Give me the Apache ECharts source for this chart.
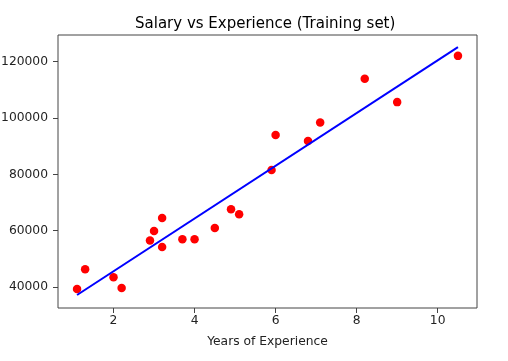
<!DOCTYPE html>
<html>
<head>
<meta charset="utf-8">
<script src="https://cdn.jsdelivr.net/npm/echarts@6/dist/echarts.min.js"></script>
<style>html,body{margin:0;padding:0;background:#fff;}#c{width:508px;height:361px;}</style>
</head>
<body>
<div id="c"></div>
<script>
var experience = [1.1, 1.3, 2.0, 2.2, 2.9, 3.0, 3.2, 3.2, 3.7, 4.0, 4.5, 4.9, 5.1, 5.9, 6.0, 6.8, 7.1, 8.2, 9.0, 10.5];
var salary = [39300, 46300, 43500, 39700, 56500, 59900, 64500, 54200, 57000, 57000, 61000, 67600, 65800, 81500, 93900, 91800, 98400, 113900, 105600, 122000];
var lineX = [1.1, 10.5];
var lineY = [37200, 125100];
var xTicks = [2, 4, 6, 8, 10];
var yTicks = [40000, 60000, 80000, 100000, 120000];

var pts = experience.map(function (x, i) { return [x, salary[i]]; });
var linePts = lineX.map(function (x, i) { return [x, lineY[i]]; });
var font = 'DejaVu Sans';
var chart = echarts.init(document.getElementById('c'));
chart.setOption({
  animation: false,
  backgroundColor: '#fff',
  title: {
    text: 'Salary vs Experience (Training set)',
    left: 130, top: 12,
    textStyle: { fontFamily: font, fontSize: 15, fontWeight: 'normal', color: '#000' }
  },
  grid: { left: 58, right: 31, top: 35, bottom: 53, show: true, borderColor: '#444', borderWidth: 1,
    containLabel: false, outerBoundsMode: 'none' },
  xAxis: {
    type: 'value', min: 0.63, max: 10.97,
    name: 'Years of Experience', nameLocation: 'middle', nameGap: 28,
    nameTextStyle: { fontFamily: font, fontSize: 12.3, color: '#222' },
    axisLine: { show: false },
    splitLine: { show: false },
    axisTick: { show: true, length: 5, customValues: xTicks, lineStyle: { color: '#444' } },
    axisLabel: { customValues: xTicks, fontFamily: font, fontSize: 12.3, color: '#222', margin: 7 }
  },
  yAxis: {
    type: 'value', min: 32600, max: 129400,
    axisLine: { show: false },
    splitLine: { show: false },
    axisTick: { show: true, length: 5, customValues: yTicks, lineStyle: { color: '#444' } },
    axisLabel: { customValues: yTicks, fontFamily: font, fontSize: 12.3, color: '#222', margin: 10,
      formatter: function (v) { return String(v); } }
  },
  series: [
    { type: 'scatter', data: pts, symbolSize: 8.5, itemStyle: { color: '#ff0000', opacity: 1 }, z: 2 },
    { type: 'line', data: linePts, symbol: 'none', lineStyle: { color: '#0000ff', width: 2 }, z: 3 }
  ]
});
</script>
</body>
</html>
